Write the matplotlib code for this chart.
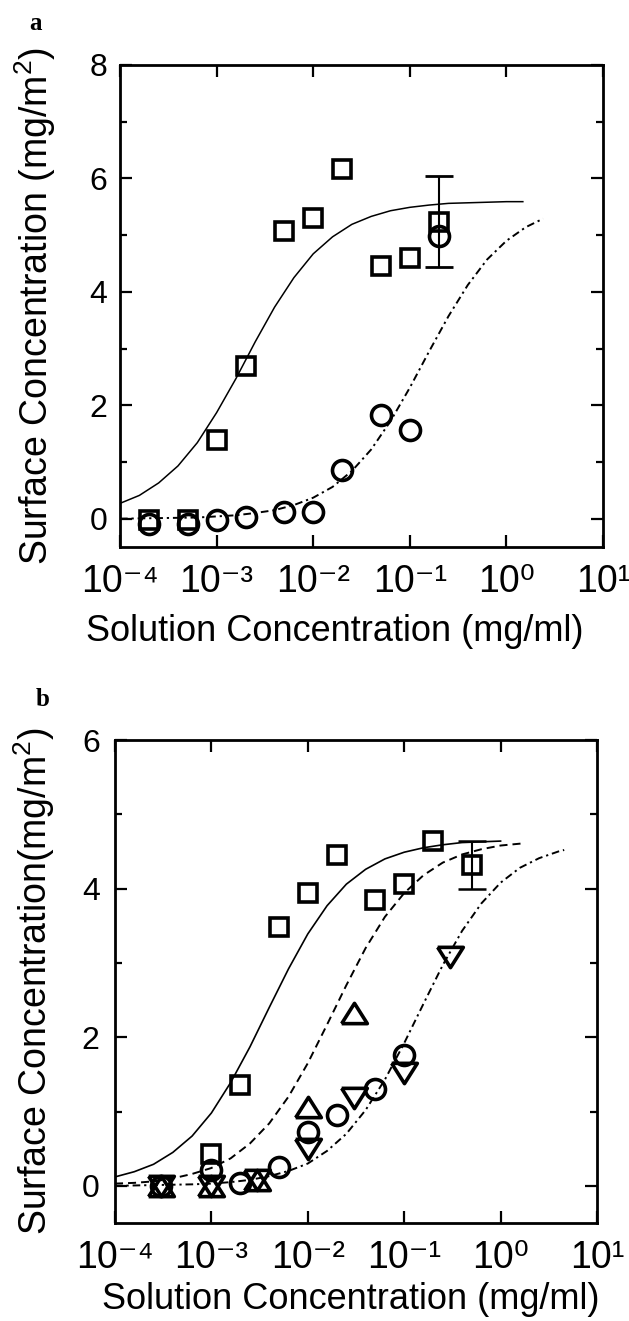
import numpy as np
import matplotlib
matplotlib.use("Agg")
import matplotlib.pyplot as plt
from matplotlib.ticker import FixedLocator, FuncFormatter, MultipleLocator, NullLocator

plt.rcParams['font.family'] = ['Liberation Sans', 'DejaVu Sans']
plt.rcParams['mathtext.fontset'] = 'custom'
plt.rcParams['mathtext.rm'] = 'Liberation Sans'
plt.rcParams['mathtext.it'] = 'Liberation Sans:italic'
plt.rcParams['mathtext.bf'] = 'Liberation Sans:bold'
plt.rcParams['lines.scale_dashes'] = False

# ---------------- panel a : measured points
a_sq_x = [2e-4, 5e-4, 1e-3, 2e-3, 5e-3, 1e-2, 2e-2, 5e-2, 1e-1, 2e-1]
a_sq_y = [-0.03, -0.03, 1.39, 2.69, 5.08, 5.31, 6.16, 4.45, 4.60, 5.24]
a_ci_x = [2e-4, 5e-4, 1e-3, 2e-3, 5e-3, 1e-2, 2e-2, 5e-2, 1e-1, 2e-1]
a_ci_y = [-0.09, -0.09, -0.03, 0.03, 0.12, 0.12, 0.85, 1.82, 1.57, 4.98]
a_err_x = [2e-1]
a_err_y = [5.24]
a_err = [0.8]

# panel a : fitted curves (log10 of concentration, surface conc.)
a_fit1_logx = [-4.0, -3.8, -3.6, -3.4, -3.2, -3.0, -2.8, -2.6, -2.4, -2.2, -2.0,
               -1.8, -1.6, -1.4, -1.2, -1.0, -0.8, -0.6, -0.4, -0.2, 0.0, 0.17]
a_fit1_y = [0.27, 0.41, 0.63, 0.93, 1.34, 1.87, 2.47, 3.12, 3.73, 4.25, 4.67,
            4.97, 5.19, 5.33, 5.43, 5.49, 5.53, 5.56, 5.57, 5.58, 5.59, 5.59]
a_fit2_logx = [-4.0, -3.6, -3.2, -3.0, -2.8, -2.6, -2.4, -2.2, -2.0, -1.8, -1.6,
               -1.4, -1.2, -1.0, -0.8, -0.6, -0.4, -0.2, 0.0, 0.2, 0.38]
a_fit2_y = [0.00, 0.01, 0.02, 0.04, 0.06, 0.10, 0.15, 0.24, 0.37, 0.56, 0.84,
            1.22, 1.72, 2.31, 2.95, 3.57, 4.12, 4.57, 4.90, 5.14, 5.29]

# ---------------- panel b : measured points
b_sq_x = [1e-3, 2e-3, 5e-3, 1e-2, 2e-2, 5e-2, 1e-1, 2e-1, 5e-1]
b_sq_y = [0.43, 1.36, 3.49, 3.94, 4.45, 3.85, 4.06, 4.64, 4.32]
b_up_x = [3e-4, 1e-3, 3e-3, 1e-2, 3e-2]
b_up_y = [0.0, 0.0, 0.08, 1.06, 2.33]
b_dn_x = [3e-4, 1e-3, 3e-3, 1e-2, 3e-2, 1e-1, 3e-1]
b_dn_y = [0.0, 0.0, 0.08, 0.50, 1.18, 1.52, 3.08]
b_ci_x = [3e-4, 1e-3, 2e-3, 5e-3, 1e-2, 2e-2, 5e-2, 1e-1]
b_ci_y = [0.0, 0.21, 0.04, 0.26, 0.73, 0.95, 1.30, 1.76]
b_err_x = [5e-1]
b_err_y = [4.32]
b_err = [0.32]

# panel b : fitted curves
b_fit1_logx = [-4.0, -3.8, -3.6, -3.4, -3.2, -3.0, -2.8, -2.6, -2.4, -2.2, -2.0,
               -1.8, -1.6, -1.4, -1.2, -1.0, -0.8, -0.6, -0.4, -0.2, 0.0]
b_fit1_y = [0.12, 0.19, 0.29, 0.45, 0.67, 0.98, 1.39, 1.87, 2.40, 2.92, 3.39,
            3.77, 4.06, 4.26, 4.40, 4.49, 4.55, 4.59, 4.62, 4.63, 4.64]
b_fit2_logx = [-4.0, -3.8, -3.6, -3.4, -3.2, -3.0, -2.8, -2.6, -2.4, -2.2, -2.0,
               -1.8, -1.6, -1.4, -1.2, -1.0, -0.8, -0.6, -0.4, -0.2, 0.0, 0.24]
b_fit2_y = [0.03, 0.04, 0.06, 0.10, 0.16, 0.24, 0.37, 0.57, 0.84, 1.20, 1.65,
            2.17, 2.70, 3.20, 3.62, 3.94, 4.18, 4.35, 4.46, 4.53, 4.58, 4.61]
b_fit3_logx = [-4.0, -3.6, -3.2, -3.0, -2.8, -2.6, -2.4, -2.2, -2.0, -1.8, -1.6,
               -1.4, -1.2, -1.0, -0.8, -0.6, -0.4, -0.2, 0.0, 0.2, 0.4, 0.6, 0.66]
b_fit3_y = [0.00, 0.01, 0.02, 0.03, 0.05, 0.08, 0.13, 0.20, 0.30, 0.47, 0.70,
            1.02, 1.43, 1.92, 2.45, 2.97, 3.43, 3.80, 4.08, 4.28, 4.41, 4.50, 4.52]

xdecades = [1e-4, 1e-3, 1e-2, 1e-1, 1e0, 1e1]

# marker styles
tri_up = [(-1, -0.79), (1, -0.79), (0, 0.79), (-1, -0.79)]
tri_dn = [(-1, 0.79), (1, 0.79), (0, -0.79), (-1, 0.79)]
mk = dict(ls='none', mfc='none', mec='black', mew=2.6, zorder=3)
DASHED = (0, (5.8, 3.6))
DASHDOT = (0, (5.5, 2.8, 1.6, 2.8))

SUP = str.maketrans('-0123456789', '\u207b\u2070\u00b9\u00b2\u00b3\u2074\u2075\u2076\u2077\u2078\u2079')


def expfmt(v, pos):
    e = int(round(np.log10(v)))
    return '10' + str(e).translate(SUP)


def style_axes(ax, ymax, ylab, ylab_x, xlab_x, xlab_y, ypad):
    ax.set_xscale('log')
    ax.set_xlim(1e-4, 1e1)
    ax.set_ylim(-0.5, ymax)
    ax.xaxis.set_major_locator(FixedLocator(xdecades))
    ax.xaxis.set_minor_locator(NullLocator())
    ax.xaxis.set_major_formatter(FuncFormatter(expfmt))
    ax.yaxis.set_major_locator(MultipleLocator(2))
    ax.yaxis.set_minor_locator(MultipleLocator(1))
    ax.tick_params(which='both', direction='in', top=True, right=True)
    ax.tick_params(which='major', length=8.5, width=1.6)
    ax.tick_params(which='minor', length=5, width=1.6)
    ax.tick_params(axis='y', labelsize=23, pad=ypad)
    ax.tick_params(axis='x', labelsize=27, pad=12)
    for s in ax.spines.values():
        s.set_linewidth(2.0)
    ax.set_ylabel(ylab, fontsize=27)
    ax.set_xlabel('Solution Concentration (mg/ml)', fontsize=26)
    ax.yaxis.set_label_coords(ylab_x, 0.5)
    ax.xaxis.set_label_coords(xlab_x, xlab_y)


fig = plt.figure(figsize=(6.29, 13.21), dpi=100)

# ---------------- panel a
ax1 = fig.add_axes([0.1908, 0.5859, 0.7679, 0.3649])
ax1.plot(10 ** np.array(a_fit1_logx), a_fit1_y, color='black', lw=1.1, zorder=2)
ax1.plot(10 ** np.array(a_fit2_logx), a_fit2_y, color='black', lw=1.4,
         ls=DASHDOT, zorder=2)
ax1.plot(a_sq_x, a_sq_y, marker='s', ms=13.3, **mk)
ax1.plot(a_ci_x, a_ci_y, marker='o', ms=14.4, **mk)
ax1.errorbar(a_err_x, a_err_y, yerr=a_err, fmt='none', ecolor='black',
             elinewidth=1.5, capsize=10.4, capthick=2.0, zorder=3)
style_axes(ax1, 8, 'Surface Concentration (mg/m$^2$)', -0.128, 0.445, -0.138, 9)

# ---------------- panel b
ax2 = fig.add_axes([0.1828, 0.0742, 0.7663, 0.3656])
ax2.plot(10 ** np.array(b_fit1_logx), b_fit1_y, color='black', lw=1.2, zorder=2)
ax2.plot(10 ** np.array(b_fit2_logx), b_fit2_y, color='black', lw=1.4,
         ls=DASHED, zorder=2)
ax2.plot(10 ** np.array(b_fit3_logx), b_fit3_y, color='black', lw=1.4,
         ls=DASHDOT, zorder=2)
ax2.plot(b_sq_x, b_sq_y, marker='s', ms=13.3, **mk)
ax2.plot(b_up_x, b_up_y, marker=tri_up, ms=18.5, **mk)
ax2.plot(b_dn_x, b_dn_y, marker=tri_dn, ms=18.5, **mk)
ax2.plot(b_ci_x, b_ci_y, marker='o', ms=14.4, **mk)
ax2.errorbar(b_err_x, b_err_y, yerr=b_err, fmt='none', ecolor='black',
             elinewidth=1.5, capsize=10.0, capthick=1.8, zorder=3)
style_axes(ax2, 6, 'Surface Concentration(mg/m$^2$)', -0.12, 0.49, -0.122, 11)

fig.text(36 / 629, 1 - 23 / 1321, 'a', fontfamily='Liberation Serif',
         fontweight='bold', fontsize=18, ha='center', va='center')
fig.text(43 / 629, 1 - 700 / 1321, 'b', fontfamily='Liberation Serif',
         fontweight='bold', fontsize=18, ha='center', va='center')

fig.savefig('out.png', dpi=100)
